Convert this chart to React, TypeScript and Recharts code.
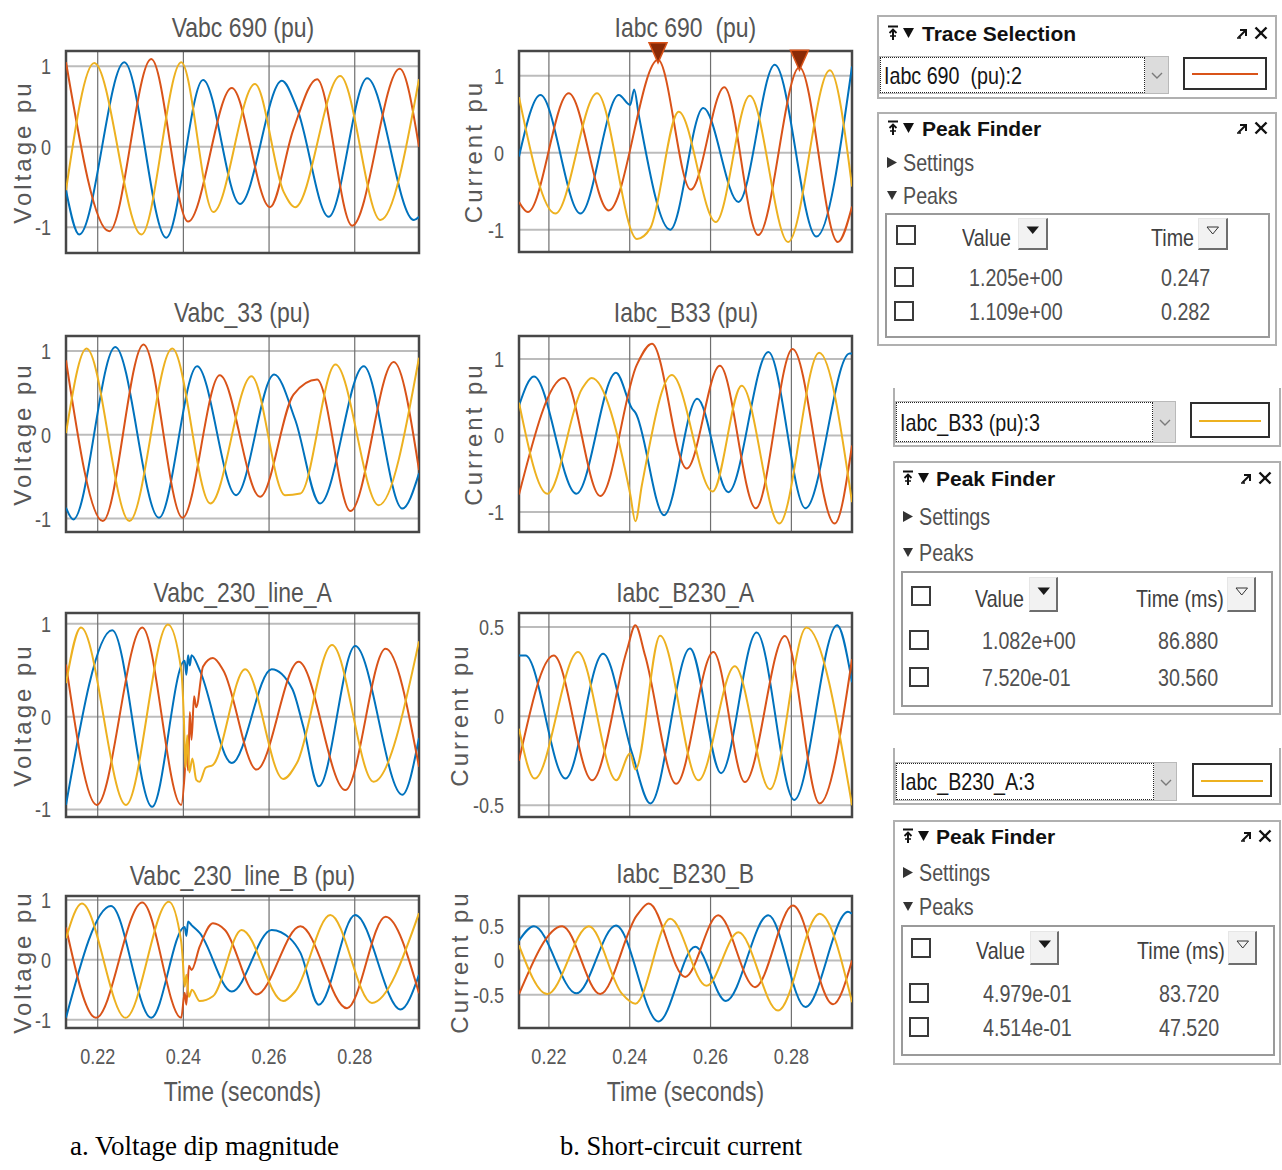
import React from 'react';
import { LineChart, Line, XAxis, YAxis, CartesianGrid, ReferenceArea, ReferenceDot } from 'recharts';

type Pt = [number, number];

const SANS = "'Liberation Sans', Arial, sans-serif";
const SERIF = "'Liberation Serif', 'Times New Roman', serif";
// horizontal squeeze giving the condensed scope lettering
const NARROW_X = 0.82;

// phase colours: channel 1, 2, 3
const PHASE_COLORS = ['#0072BD', '#D95319', '#EDB120'];

const timeDomain: [number, number] = [0.2126, 0.295];
const timeTicks = [0.22, 0.24, 0.26, 0.28];
const unitTicks = [-1, 0, 1];
const halfTicks = [-0.5, 0, 0.5];
const MS_ORIGIN = 0.2; // time origin of the millisecond readouts

// Peak finder readouts
const iabc690Peaks = [{ t: 0.247, v: 1.205 }, { t: 0.282, v: 1.109 }];
const iabcB33Peaks = [{ ms: 86.88, v: 1.082 }, { ms: 30.56, v: 0.752 }];
const iabcB230APeaks = [{ ms: 83.72, v: 0.4979 }, { ms: 47.52, v: 0.4514 }];

// ---- Vabc 690 (pu) : turning points [time s, value pu]
const vabc690_1: Pt[] = [[0.2126, -0.54], [0.2157, -1.09], [0.2262, 1.05], [0.236, -1.13], [0.2446, 0.83], [0.2532, -0.71], [0.263, 0.82], [0.2665, 0.48], [0.2739, -0.87], [0.2829, 0.85], [0.2938, -0.91], [0.295, -0.87]];
const vabc690_2: Pt[] = [[0.2126, 1.05], [0.2227, -1.05], [0.2325, 1.09], [0.2411, -0.93], [0.2513, 0.73], [0.2602, -0.75], [0.2657, 0.22], [0.2712, 0.84], [0.2794, -0.98], [0.2905, 0.97], [0.295, 0.0]];
const vabc690_3: Pt[] = [[0.2126, -0.54], [0.2192, 1.04], [0.2302, -1.09], [0.2395, 1.05], [0.247, -0.81], [0.2567, 0.78], [0.2634, -0.56], [0.2661, -0.75], [0.2766, 0.88], [0.286, -0.91], [0.295, 0.84]];

// ---- Iabc 690 (pu)
const iabc690_1: Pt[] = [[0.2126, -0.05], [0.2179, 0.75], [0.2278, -0.79], [0.2373, 0.75], [0.2401, 0.62], [0.2411, 0.82], [0.2422, 0.5], [0.25, -1.0], [0.2582, 0.58], [0.2669, -0.64], [0.2759, 1.14], [0.2862, -1.09], [0.295, 1.12]];
const iabc690_2: Pt[] = [[0.2126, -0.64], [0.2148, -0.77], [0.2249, 0.77], [0.2348, -0.75], [iabc690Peaks[0].t, iabc690Peaks[0].v], [0.2551, -0.48], [0.2634, 0.85], [0.2718, -1.07], [iabc690Peaks[1].t, iabc690Peaks[1].v], [0.2915, -1.16], [0.295, -0.7]];
const iabc690_3: Pt[] = [[0.2126, 0.72], [0.2216, -0.79], [0.2319, 0.77], [0.2418, -1.12], [0.2451, -0.98], [0.2521, 0.53], [0.2613, -0.9], [0.2697, 0.74], [0.2792, -1.16], [0.2895, 1.07], [0.295, -0.44]];

// ---- Vabc_33 (pu)
const vabc33_1: Pt[] = [[0.2126, -0.87], [0.2143, -1.01], [0.2241, 1.05], [0.2343, -0.99], [0.2432, 0.82], [0.2523, -0.72], [0.2612, 0.72], [0.2661, 0.18], [0.2719, -0.82], [0.2821, 0.82], [0.2911, -0.88], [0.295, -0.46]];
const vabc33_2: Pt[] = [[0.2126, 0.89], [0.2212, -1.03], [0.2307, 1.08], [0.2398, -0.99], [0.2485, 0.71], [0.2579, -0.74], [0.2657, 0.48], [0.2712, 0.66], [0.279, -0.91], [0.2891, 0.87], [0.295, -0.42]];
const vabc33_3: Pt[] = [[0.2126, 0.02], [0.2174, 1.03], [0.2274, -1.03], [0.2374, 1.03], [0.2463, -0.82], [0.2559, 0.7], [0.2637, -0.72], [0.2673, -0.7], [0.2755, 0.84], [0.2856, -0.84], [0.295, 0.92]];

// ---- Iabc_B33 (pu)
const iabcB33_1: Pt[] = [[0.2126, 0.39], [0.2163, 0.77], [0.2268, -0.76], [0.2366, 0.82], [0.2406, 0.35], [0.2414, 0.3], [0.2485, -1.04], [0.2567, 0.48], [0.2644, -0.74], [0.2743, 1.09], [0.2835, -0.95], [0.2944, 1.07], [0.295, 1.07]];
const iabcB33_2: Pt[] = [[0.2126, -0.77], [0.2237, 0.75], [0.2327, -0.79], [0.2418, 0.93], [0.2455, 1.2], [0.2541, -0.43], [0.2623, 0.91], [0.2712, -0.95], [0.2803, 1.13], [0.2907, -1.15], [0.295, -0.13]];
const iabcB33_3: Pt[] = [[0.2126, 0.43], [0.2196, -0.76], [0.2282, 0.61], [MS_ORIGIN + iabcB33Peaks[1].ms / 1000, iabcB33Peaks[1].v], [0.2401, -0.76], [0.2414, -1.12], [0.243, -0.65], [0.2504, 0.79], [0.2605, -0.73], [0.2677, 0.65], [0.277, -1.15], [MS_ORIGIN + iabcB33Peaks[0].ms / 1000, iabcB33Peaks[0].v], [0.295, -0.87]];

// ---- Vabc_230_line_A
const v230A_1: Pt[] = [[0.2126, -0.95], [0.2234, 0.93], [0.2327, -0.97], [0.2403, 0.6], [0.2407, 0.45], [0.2411, 0.66], [0.2415, 0.55], [0.2419, 0.66], [0.2438, 0.5], [0.2513, -0.5], [0.2606, 0.51], [0.2654, 0.3], [0.268, -0.11], [0.2716, -0.75], [0.2801, 0.76], [0.2911, -0.84], [0.295, -0.23]];
const v230A_2: Pt[] = [[0.2126, 0.56], [0.2198, -0.95], [0.2304, 0.96], [0.2395, -0.95], [0.2403, -0.62], [0.2407, -0.3], [0.2411, -0.58], [0.2415, 0.05], [0.2419, -0.25], [0.2425, 0.22], [0.243, 0.1], [0.2446, 0.54], [0.2469, 0.63], [0.2493, 0.5], [0.2571, -0.57], [0.2669, 0.59], [0.2778, -0.79], [0.2872, 0.73], [0.295, -0.54]];
const v230A_3: Pt[] = [[0.2126, 0.36], [0.2161, 0.96], [0.2266, -0.95], [0.2364, 0.99], [0.2395, 0.5], [0.2401, 0.0], [0.2405, -0.55], [0.2409, -0.2], [0.2414, -0.6], [0.2421, -0.45], [0.243, -0.68], [0.2438, -0.7], [0.2452, -0.55], [0.2469, -0.52], [0.2544, 0.51], [0.2633, -0.67], [0.2665, -0.5], [0.2747, 0.77], [0.2844, -0.7], [0.295, 0.81]];

// ---- Iabc_B230_A
const iB230A_1: Pt[] = [[0.2126, 0.34], [0.2142, 0.34], [0.2241, -0.35], [0.2334, 0.35], [0.2406, -0.21], [0.2451, -0.49], [0.2549, 0.38], [0.2626, -0.32], [0.2714, 0.47], [0.2807, -0.47], [0.2913, 0.51], [0.295, 0.19]];
const iB230A_2: Pt[] = [[0.2126, -0.25], [0.2212, 0.34], [0.2307, -0.36], [0.2393, 0.37], [0.2414, 0.51], [0.2438, 0.34], [0.2515, -0.38], [0.2607, 0.36], [0.2685, -0.37], [0.2784, 0.45], [0.287, -0.49], [0.295, 0.32]];
const iB230A_3: Pt[] = [[0.2126, -0.07], [0.2165, -0.35], [0.2272, 0.36], [0.2367, -0.36], [0.2401, -0.21], [0.2414, -0.3], [MS_ORIGIN + iabcB230APeaks[1].ms / 1000, iabcB230APeaks[1].v], [0.257, -0.36], [0.266, 0.28], [0.2747, -0.41], [MS_ORIGIN + iabcB230APeaks[0].ms / 1000, iabcB230APeaks[0].v], [0.295, -0.5]];

// ---- Vabc_230_line_B (pu)
const v230B_1: Pt[] = [[0.2126, -0.97], [0.2231, 0.9], [0.2325, -0.97], [0.2403, 0.55], [0.2407, 0.4], [0.2411, 0.64], [0.2419, 0.58], [0.2438, 0.45], [0.2513, -0.53], [0.2606, 0.5], [0.265, 0.35], [0.2673, 0.12], [0.2716, -0.75], [0.2801, 0.75], [0.2907, -0.83], [0.295, -0.25]];
const v230B_2: Pt[] = [[0.2126, 0.54], [0.2196, -0.97], [0.2304, 0.96], [0.2395, -0.97], [0.2403, -0.55], [0.2407, -0.75], [0.2413, -0.1], [0.2419, -0.17], [0.2438, 0.22], [0.2469, 0.61], [0.2497, 0.5], [0.2571, -0.58], [0.2673, 0.56], [0.2782, -0.81], [0.2872, 0.72], [0.295, -0.56]];
const v230B_3: Pt[] = [[0.2126, 0.36], [0.2163, 0.94], [0.2265, -0.97], [0.2366, 0.97], [0.2395, 0.3], [0.2399, -0.05], [0.2403, -0.45], [0.2407, -0.25], [0.2413, -0.62], [0.242, -0.5], [0.2438, -0.69], [0.2469, -0.61], [0.2536, 0.5], [0.2633, -0.69], [0.2661, -0.53], [0.2743, 0.75], [0.284, -0.72], [0.295, 0.78]];

// ---- Iabc_B230_B
const iB230B_1: Pt[] = [[0.2126, 0.29], [0.2163, 0.5], [0.2268, -0.48], [0.2366, 0.51], [0.2471, -0.89], [0.2562, 0.2], [0.2638, -0.59], [0.2743, 0.66], [0.2835, -0.68], [0.294, 0.71], [0.295, 0.68]];
const iB230B_2: Pt[] = [[0.2126, -0.49], [0.2233, 0.5], [0.2327, -0.49], [0.2418, 0.66], [0.2447, 0.83], [0.2537, -0.24], [0.2619, 0.66], [0.271, -0.39], [0.2804, 0.8], [0.2903, -0.64], [0.295, 0.0]];
const iB230B_3: Pt[] = [[0.2126, 0.22], [0.2196, -0.49], [0.2299, 0.5], [0.238, -0.48], [0.2414, -0.63], [0.25, 0.61], [0.259, -0.37], [0.2669, 0.41], [0.2767, -0.73], [0.287, 0.68], [0.295, -0.61]];

type Panel = {
  title: string;
  yLabel: string;
  yLabelX: number;
  col: 0 | 1;
  x: number; y: number; w: number; h: number;
  titleY: number;
  yDomain: [number, number];
  yTicks: number[];
  series: Pt[][];
  timeAxis?: boolean;
  markers?: { t: number; v: number }[];
};

const LEFT = { x: 66, w: 353 };
const MID = { x: 519, w: 333 };

const panels: Panel[] = [
  { title: 'Vabc 690 (pu)', yLabel: 'Voltage pu', yLabelX: 16, col: 0, ...LEFT, y: 51, h: 202, titleY: 28, yDomain: [-1.32, 1.19], yTicks: unitTicks, series: [vabc690_1, vabc690_2, vabc690_3] },
  { title: 'Iabc 690  (pu)', yLabel: 'Current pu', yLabelX: 29, col: 1, ...MID, y: 51, h: 201, titleY: 28, yDomain: [-1.29, 1.32], yTicks: unitTicks, series: [iabc690_1, iabc690_2, iabc690_3], markers: iabc690Peaks },
  { title: 'Vabc_33 (pu)', yLabel: 'Voltage pu', yLabelX: 16, col: 0, ...LEFT, y: 336, h: 196, titleY: 313, yDomain: [-1.16, 1.18], yTicks: unitTicks, series: [vabc33_1, vabc33_2, vabc33_3] },
  { title: 'Iabc_B33 (pu)', yLabel: 'Current pu', yLabelX: 29, col: 1, ...MID, y: 336, h: 196, titleY: 313, yDomain: [-1.26, 1.3], yTicks: unitTicks, series: [iabcB33_1, iabcB33_2, iabcB33_3] },
  { title: 'Vabc_230_line_A', yLabel: 'Voltage pu', yLabelX: 16, col: 0, ...LEFT, y: 613, h: 204, titleY: 593, yDomain: [-1.08, 1.115], yTicks: unitTicks, series: [v230A_1, v230A_2, v230A_3] },
  { title: 'Iabc_B230_A', yLabel: 'Current pu', yLabelX: 15, col: 1, ...MID, y: 613, h: 204, titleY: 593, yDomain: [-0.566, 0.579], yTicks: halfTicks, series: [iB230A_1, iB230A_2, iB230A_3] },
  { title: 'Vabc_230_line_B (pu)', yLabel: 'Voltage pu', yLabelX: 16, col: 0, ...LEFT, y: 896, h: 132, titleY: 876, yDomain: [-1.14, 1.067], yTicks: unitTicks, series: [v230B_1, v230B_2, v230B_3], timeAxis: true },
  { title: 'Iabc_B230_B', yLabel: 'Current pu', yLabelX: 15, col: 1, ...MID, y: 896, h: 132, titleY: 874, yDomain: [-0.985, 0.94], yTicks: halfTicks, series: [iB230B_1, iB230B_2, iB230B_3], timeAxis: true },
];

const AXIS_TEXT = '#585858';

// condensed tick text for both axes
const narrowTick = (dy: string, fmt: (v: number) => string) => (props: any) => {
  const { x, y, payload, textAnchor } = props;
  return (
    <g transform={`translate(${x},${y})`}>
      <text transform={`scale(${NARROW_X},1)`} textAnchor={textAnchor} dy={dy} fill={AXIS_TEXT} fontSize={22} fontFamily={SANS}>
        {fmt(payload.value)}
      </text>
    </g>
  );
};
const xTick = narrowTick('0.71em', (v) => v.toFixed(2));
const yTick = narrowTick('0.36em', (v) => String(v));

const yAxisLabel = (text: string, cxOffset: number) => (props: any) => {
  const vb = props.viewBox || { x: 0, y: 0, width: 0, height: 0 };
  const cx = vb.x + cxOffset;
  const cy = vb.y + vb.height / 2;
  return (
    <text x={cx} y={cy} transform={`rotate(-90 ${cx} ${cy})`} textAnchor="middle" dominantBaseline="central"
      fill={AXIS_TEXT} fontSize={24} fontFamily={SANS} letterSpacing={3}>{text}</text>
  );
};

const timeAxisLabel = (props: any) => {
  const vb = props.viewBox || { x: 0, y: 0, width: 0, height: 0 };
  return (
    <g transform={`translate(${vb.x + vb.width / 2},${vb.y + 73})`}>
      <text transform={`scale(${NARROW_X},1)`} textAnchor="middle" fill={AXIS_TEXT} fontSize={28} fontFamily={SANS}>
        Time (seconds)
      </text>
    </g>
  );
};

const PeakMarker = (props: any) => {
  const { cx, cy } = props;
  return <polygon points={`${cx - 9},${cy - 17} ${cx + 9},${cy - 17} ${cx},${cy + 3}`} fill="#8a2a06" stroke="#D95319" strokeWidth={1.5} />;
};

function Scope({ p }: { p: Panel }) {
  const MT = 16;
  const MR = 8;
  const yw = p.col === 0 ? 60 : 75;
  const xh = p.timeAxis ? 92 : 0;
  const mb = p.timeAxis ? 0 : 8;
  const W = yw + p.w + MR;
  const H = MT + p.h + xh + mb;
  return (
    <>
      <div style={{ position: 'absolute', left: p.x, top: p.titleY - 17, width: p.w, height: 34, lineHeight: '34px', textAlign: 'center', fontFamily: SANS, fontSize: 28, color: '#555', whiteSpace: 'pre' }}>
        <span style={{ display: 'inline-block', transform: `scaleX(${NARROW_X})`, transformOrigin: 'center' }}>{p.title}</span>
      </div>
      <div style={{ position: 'absolute', left: p.x - yw, top: p.y - MT }}>
        <LineChart width={W} height={H} margin={{ top: MT, right: MR, bottom: mb, left: 0 }}>
          <CartesianGrid vertical={false} horizontalValues={p.yTicks} stroke="#bcbcbc" strokeWidth={2} />
          <CartesianGrid horizontal={false} verticalValues={timeTicks} stroke="#6f6f6f" strokeWidth={1.2} />
          <XAxis type="number" dataKey="t" domain={timeDomain} ticks={timeTicks} allowDataOverflow hide={!p.timeAxis}
            height={xh || 1} tickLine={false} axisLine={false} tickMargin={14} tick={xTick}
            label={p.timeAxis ? timeAxisLabel : undefined} />
          <YAxis type="number" domain={p.yDomain} ticks={p.yTicks} allowDataOverflow width={yw} tickLine={false} axisLine={false}
            tickMargin={9} tick={yTick} label={yAxisLabel(p.yLabel, p.yLabelX)} />
          {p.series.map((s, i) => (
            <Line key={i} data={s.map(([t, v]) => ({ t, v }))} dataKey="v" type="monotone" stroke={PHASE_COLORS[i]}
              strokeWidth={2} dot={false} activeDot={false} isAnimationActive={false} />
          ))}
          <ReferenceArea x1={timeDomain[0]} x2={timeDomain[1]} y1={p.yDomain[0]} y2={p.yDomain[1]} fill="none" fillOpacity={0}
            stroke="#474747" strokeWidth={2.5} ifOverflow="visible" />
          {(p.markers || []).map((m, i) => (
            <ReferenceDot key={i} x={m.t} y={m.v} r={8} ifOverflow="visible" shape={PeakMarker} />
          ))}
        </LineChart>
      </div>
    </>
  );
}

// ---------- side panels ----------
const fmtExp = (v: number) => v.toExponential(3).replace(/e([+-])(\d)$/, (_m, s, d) => `e${s}0${d}`);

function TextAt({ x, cy, size = 24, narrow = true, color = '#505050', weight = 400, children }: any) {
  const lh = Math.round(size * 1.3);
  return (
    <div style={{
      position: 'absolute', left: x, top: cy - lh / 2, height: lh, lineHeight: `${lh}px`, fontSize: size, fontFamily: SANS,
      color, fontWeight: weight, whiteSpace: 'pre', transform: narrow ? `scaleX(${NARROW_X})` : undefined, transformOrigin: 'left center',
    }}>
      {children}
    </div>
  );
}

function Svg({ x, y, w, h, children }: any) {
  return <svg style={{ position: 'absolute', left: x, top: y }} width={w} height={h}>{children}</svg>;
}

function Header({ cy, pin, tri, titleX, undock, close, title }: any) {
  return (
    <>
      <Svg x={pin} y={cy - 8} w={11} h={16}>
        <line x1={0} y1={1.5} x2={10} y2={1.5} stroke="#111" strokeWidth={2} />
        <polyline points="1.5,8 5,4.5 8.5,8" fill="none" stroke="#111" strokeWidth={1.8} />
        <line x1={5} y1={5} x2={5} y2={15} stroke="#111" strokeWidth={2} />
        <line x1={2} y1={11} x2={8} y2={11} stroke="#111" strokeWidth={1.5} />
      </Svg>
      <Svg x={tri} y={cy - 5} w={12} h={11}>
        <polygon points="0,0 11,0 5.5,10" fill="#111" />
      </Svg>
      <TextAt x={titleX} cy={cy} size={21} narrow={false} weight={700} color="#111">{title}</TextAt>
      <Svg x={undock} y={cy - 5} w={11} h={11}>
        <line x1={1.5} y1={9.5} x2={8.5} y2={2.5} stroke="#111" strokeWidth={2} />
        <polyline points="3,2 9,2 9,8" fill="none" stroke="#111" strokeWidth={2} />
        <line x1={0} y1={10} x2={4} y2={10} stroke="#111" strokeWidth={1.5} />
      </Svg>
      <Svg x={close} y={cy - 7} w={14} h={14}>
        <line x1={1.5} y1={1.5} x2={12.5} y2={12.5} stroke="#111" strokeWidth={2.4} />
        <line x1={12.5} y1={1.5} x2={1.5} y2={12.5} stroke="#111" strokeWidth={2.4} />
      </Svg>
    </>
  );
}

function Checkbox({ x, y, s = 20 }: any) {
  return <div style={{ position: 'absolute', left: x, top: y, width: s, height: s, border: '2px solid #3a3a3a', boxSizing: 'border-box', background: '#fff' }} />;
}

function SortButton({ x, y, w, h, filled }: any) {
  return (
    <div style={{ position: 'absolute', left: x, top: y, width: w, height: h, boxSizing: 'border-box', background: '#f2f2f2', borderStyle: 'solid', borderWidth: '1px 2px 2px 1px', borderColor: '#e6e6e6 #6e6e6e #6e6e6e #e6e6e6' }}>
      <svg style={{ position: 'absolute', left: (w - 3 - 13) / 2, top: (h - 3 - 9) / 2 - 3 }} width={14} height={10}>
        {filled
          ? <polygon points="0.5,0.5 13,0.5 6.75,8" fill="#1a1a1a" />
          : <polygon points="1,1 12.5,1 6.75,8" fill="none" stroke="#333" strokeWidth={1} />}
      </svg>
    </div>
  );
}

function Dropdown({ x, y, w, h, btn, text }: any) {
  return (
    <>
      <div style={{ position: 'absolute', left: x, top: y, width: w + btn, height: h, boxSizing: 'border-box', border: '1px solid #b9b9b9', background: '#fff' }} />
      <div style={{ position: 'absolute', left: x + 1, top: y + 1, width: w - 1, height: h - 2, boxSizing: 'border-box', border: '1px dotted #222' }} />
      <div style={{ position: 'absolute', left: x + w, top: y + 1, width: btn - 1, height: h - 2, background: '#dcdcdc' }} />
      <Svg x={x + w + (btn - 12) / 2} y={y + h / 2 - 3} w={12} h={8}>
        <polyline points="1,1 6,6 11,1" fill="none" stroke="#7a7a7a" strokeWidth={1.4} />
      </Svg>
      <TextAt x={x + 5} cy={y + h / 2} color="#141414">{text}</TextAt>
    </>
  );
}

function Swatch({ x, y, w, h, color }: any) {
  return (
    <div style={{ position: 'absolute', left: x, top: y, width: w, height: h, boxSizing: 'border-box', border: '2px solid #2e2e2e', background: '#fff' }}>
      <div style={{ position: 'absolute', left: 7, right: 7, top: h / 2 - 2.5, height: 2, background: color }} />
    </div>
  );
}

type TraceSel = { signal: string; channel: number; box: number[]; full: boolean; dd: number[]; sw: number[] };

const traceSelections: TraceSel[] = [
  { signal: 'Iabc 690  (pu)', channel: 2, box: [877, 15, 400, 84], full: true, dd: [879, 56, 266, 38, 24], sw: [1183, 57, 84, 33] },
  { signal: 'Iabc_B33 (pu)', channel: 3, box: [893, 388, 388, 59], full: false, dd: [895, 401, 258, 42, 23], sw: [1190, 402, 80, 36] },
  { signal: 'Iabc_B230_A', channel: 3, box: [893, 748, 388, 57], full: false, dd: [895, 762, 259, 39, 23], sw: [1192, 763, 80, 34] },
];

type Finder = {
  box: number[]; head: number; icons: number[]; settings: number; peaksY: number; triX: number; textX: number;
  inner: number[]; headRow: number; rows: number[]; headCb: number; cb: number;
  valueLbl: number; valueBtn: number[]; timeLbl: number; timeBtn: number[]; valueTxt: number; timeTxt: number;
  timeTitle: string; cells: string[][];
};

const finders: Finder[] = [
  {
    box: [877, 112, 400, 234], head: 128, icons: [888, 903, 922, 1237, 1254], settings: 162, peaksY: 195, triX: 887, textX: 903,
    inner: [885, 213, 385, 125], headRow: 235, rows: [277, 311], headCb: 896, cb: 894,
    valueLbl: 962, valueBtn: [1018, 218, 30, 32], timeLbl: 1151, timeBtn: [1198, 218, 30, 32], valueTxt: 969, timeTxt: 1161,
    timeTitle: 'Time', cells: iabc690Peaks.map((p) => [fmtExp(p.v), p.t.toFixed(3)]),
  },
  {
    box: [893, 461, 388, 254], head: 478, icons: [903, 918, 936, 1241, 1258], settings: 516, peaksY: 552, triX: 903, textX: 919,
    inner: [901, 571, 372, 136], headRow: 596, rows: [640, 677], headCb: 911, cb: 909,
    valueLbl: 975, valueBtn: [1029, 577, 29, 35], timeLbl: 1136, timeBtn: [1227, 577, 29, 35], valueTxt: 982, timeTxt: 1158,
    timeTitle: 'Time (ms)', cells: iabcB33Peaks.map((p) => [fmtExp(p.v), p.ms.toFixed(3)]),
  },
  {
    box: [893, 820, 388, 245], head: 836, icons: [903, 918, 936, 1241, 1258], settings: 872, peaksY: 906, triX: 903, textX: 919,
    inner: [901, 925, 374, 131], headRow: 948, rows: [993, 1027], headCb: 911, cb: 909,
    valueLbl: 976, valueBtn: [1030, 931, 29, 34], timeLbl: 1137, timeBtn: [1228, 931, 29, 34], valueTxt: 983, timeTxt: 1159,
    timeTitle: 'Time (ms)', cells: iabcB230APeaks.map((p) => [fmtExp(p.v), p.ms.toFixed(3)]),
  },
];

const PANEL_BORDER = '2px solid #b0b0b0';

function TracePanel({ t }: { t: TraceSel }) {
  const [bx, by, bw, bh] = t.box;
  const [dx, dy, dw, dh, db] = t.dd;
  const [sx, sy, sw, sh] = t.sw;
  return (
    <>
      <div style={{ position: 'absolute', left: bx, top: by, width: bw, height: bh, boxSizing: 'border-box', border: PANEL_BORDER, borderTop: t.full ? PANEL_BORDER : 'none', background: '#fff' }} />
      {t.full && <Header cy={33} pin={888} tri={903} titleX={922} undock={1237} close={1254} title="Trace Selection" />}
      <Dropdown x={dx} y={dy} w={dw} h={dh} btn={db} text={`${t.signal}:${t.channel}`} />
      <Swatch x={sx} y={sy} w={sw} h={sh} color={PHASE_COLORS[t.channel - 1]} />
    </>
  );
}

function FinderPanel({ f }: { f: Finder }) {
  const [bx, by, bw, bh] = f.box;
  const [ix, iy, iw, ih] = f.inner;
  return (
    <>
      <div style={{ position: 'absolute', left: bx, top: by, width: bw, height: bh, boxSizing: 'border-box', border: PANEL_BORDER, background: '#fff' }} />
      <Header cy={f.head} pin={f.icons[0]} tri={f.icons[1]} titleX={f.icons[2]} undock={f.icons[3]} close={f.icons[4]} title="Peak Finder" />
      <Svg x={f.triX} y={f.settings - 5} w={10} h={11}><polygon points="0,0 10,5.5 0,11" fill="#333" /></Svg>
      <TextAt x={f.textX} cy={f.settings}>Settings</TextAt>
      <Svg x={f.triX} y={f.peaksY - 4} w={11} h={10}><polygon points="0,0 10,0 5,9" fill="#333" /></Svg>
      <TextAt x={f.textX} cy={f.peaksY}>Peaks</TextAt>
      <div style={{ position: 'absolute', left: ix, top: iy, width: iw, height: ih, boxSizing: 'border-box', border: '2px solid #9a9a9a' }} />
      <Checkbox x={f.headCb} y={f.headRow - 10} />
      <TextAt x={f.valueLbl} cy={f.headRow + 2} color="#404040">Value</TextAt>
      <SortButton x={f.valueBtn[0]} y={f.valueBtn[1]} w={f.valueBtn[2]} h={f.valueBtn[3]} filled />
      <TextAt x={f.timeLbl} cy={f.headRow + 2} color="#404040">{f.timeTitle}</TextAt>
      <SortButton x={f.timeBtn[0]} y={f.timeBtn[1]} w={f.timeBtn[2]} h={f.timeBtn[3]} filled={false} />
      {f.cells.map((c, i) => (
        <React.Fragment key={i}>
          <Checkbox x={f.cb} y={f.rows[i] - 10} />
          <TextAt x={f.valueTxt} cy={f.rows[i]}>{c[0]}</TextAt>
          <TextAt x={f.timeTxt} cy={f.rows[i]}>{c[1]}</TextAt>
        </React.Fragment>
      ))}
    </>
  );
}

export default function App() {
  return (
    <div style={{ position: 'absolute', left: 0, top: 0, width: 1282, height: 1170, background: '#fff', overflow: 'hidden' }}>
      {panels.map((p, i) => <Scope key={i} p={p} />)}
      {traceSelections.map((t, i) => <TracePanel key={i} t={t} />)}
      {finders.map((f, i) => <FinderPanel key={i} f={f} />)}
      <div style={{ position: 'absolute', left: 70, top: 1132, fontFamily: SERIF, fontSize: 27, lineHeight: '28px', color: '#000' }}>a. Voltage dip magnitude</div>
      <div style={{ position: 'absolute', left: 560, top: 1132, fontFamily: SERIF, fontSize: 26.5, lineHeight: '28px', color: '#000' }}>b. Short-circuit current</div>
    </div>
  );
}
